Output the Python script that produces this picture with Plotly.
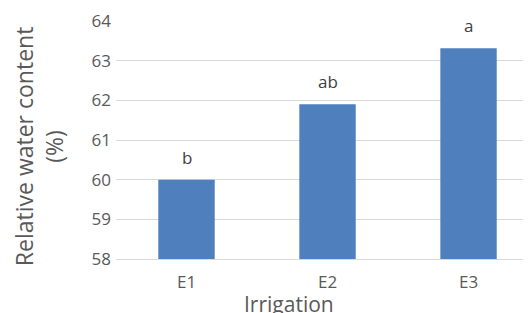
import plotly.graph_objects as go

categories = ["E1", "E2", "E3"]
values = [60.0, 61.9, 63.31]
letters = ["b", "ab", "a"]
y_ticks = [58, 59, 60, 61, 62, 63, 64]

FONT = "Open Sans"
GRAY = "#595959"

fig = go.Figure()
fig.add_trace(go.Bar(
    x=categories, y=values, width=0.4,
    marker=dict(color="#4f80bd", line=dict(width=0)),
))

for c, v, t in zip(categories, values, letters):
    fig.add_annotation(x=c, y=v, text=t, showarrow=False, yanchor="bottom", yshift=9,
                       font=dict(family=FONT, size=17, color="#404040"))

fig.add_annotation(xref="paper", yref="paper", x=-0.185, y=0.475, xanchor="center", yanchor="middle",
                   text="Relative water content<br>(%)", textangle=-90, showarrow=False,
                   font=dict(family=FONT, size=23, color=GRAY))
fig.add_annotation(xref="paper", yref="paper", x=0.417, y=-0.19, xanchor="center", yanchor="middle",
                   text="Irrigation", showarrow=False,
                   font=dict(family=FONT, size=21, color=GRAY))

# page has an 8px body margin, so the figure is drawn 8px smaller and offset
fig.update_layout(
    width=523, height=305,
    margin=dict(l=108, r=0, t=13, b=54),
    paper_bgcolor="white", plot_bgcolor="white",
    showlegend=False,
)
fig.update_xaxes(range=[-0.5, 2.443], showgrid=False, showline=True, linecolor="#d9d9d9", linewidth=1,
                 ticks="", tickfont=dict(family=FONT, size=17, color=GRAY), ticklabelstandoff=8)
fig.update_yaxes(range=[58, 64], tickvals=y_ticks, showgrid=True, gridcolor="#d9d9d9", gridwidth=1,
                 zeroline=False, showline=False, ticks="",
                 tickfont=dict(family=FONT, size=17, color=GRAY), ticklabelstandoff=4)

fig.write_html("out.html")
